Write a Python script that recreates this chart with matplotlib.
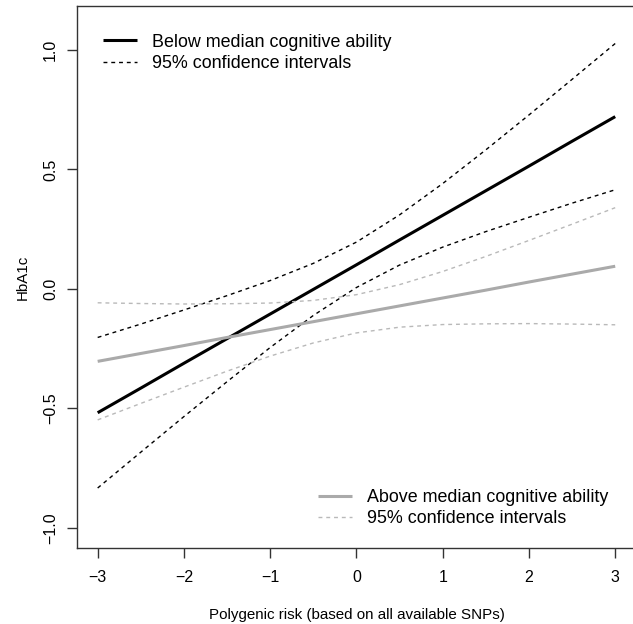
import matplotlib
matplotlib.use('Agg')
import matplotlib.pyplot as plt

plt.rcParams['font.family'] = ['Liberation Sans', 'DejaVu Sans']

# polygenic risk grid
risk = [-3, -2.5, -2, -1.5, -1, -0.5, 0, 0.5, 1, 1.5, 2, 2.5, 3]

# below median cognitive ability
below_fit = [-0.518, -0.415, -0.311, -0.208, -0.105, -0.002, 0.101, 0.205, 0.308, 0.411, 0.514, 0.618, 0.721]
below_hi = [-0.203, -0.147, -0.088, -0.028, 0.035, 0.107, 0.196, 0.310, 0.441, 0.582, 0.728, 0.877, 1.027]
below_lo = [-0.833, -0.683, -0.534, -0.388, -0.245, -0.111, 0.006, 0.100, 0.175, 0.240, 0.300, 0.359, 0.415]

# above median cognitive ability
above_fit = [-0.303, -0.270, -0.237, -0.203, -0.170, -0.137, -0.104, -0.071, -0.038, -0.005, 0.029, 0.062, 0.095]
above_hi = [-0.058, -0.061, -0.063, -0.062, -0.059, -0.048, -0.024, 0.018, 0.073, 0.136, 0.203, 0.271, 0.340]
above_lo = [-0.548, -0.479, -0.411, -0.344, -0.281, -0.226, -0.184, -0.160, -0.149, -0.146, -0.145, -0.147, -0.150]

xticks = [-3, -2, -1, 0, 1, 2, 3]
yticks = [-1.0, -0.5, 0.0, 0.5, 1.0]

fig = plt.figure(figsize=(6.33, 6.24), dpi=100)
ax = fig.add_axes([0.1216, 0.1218, 0.883, 0.8686])

dash = (2.8, 2.8)
gsolid = '#aaaaaa'
gdash = '#b9b9b9'

l1, = ax.plot(risk, below_fit, color='black', lw=2.2, solid_capstyle='butt')
l2, = ax.plot(risk, below_hi, color='black', lw=1.0, dashes=dash)
ax.plot(risk, below_lo, color='black', lw=1.0, dashes=dash)

l3, = ax.plot(risk, above_fit, color=gsolid, lw=2.2, solid_capstyle='butt')
l4, = ax.plot(risk, above_hi, color=gdash, lw=1.0, dashes=dash)
ax.plot(risk, above_lo, color=gdash, lw=1.0, dashes=dash)

ax.set_xlim(-3.24, 3.24)
ax.set_ylim(-1.084, 1.184)
ax.set_xticks(xticks)
ax.set_xticklabels(['\u22123', '\u22122', '\u22121', '0', '1', '2', '3'])
ax.set_yticks(yticks)
ax.set_yticklabels(['\u22121.0', '\u22120.5', '0.0', '0.5', '1.0'], rotation=90, va='center')
ax.tick_params(length=7, width=1.0, labelsize=11.5, color='#333333', pad=8.5)
ax.tick_params(axis='y', pad=6.5)
for s in ax.spines.values():
    s.set_color('#333333')
    s.set_linewidth(1.0)

ax.set_xlabel('Polygenic risk (based on all available SNPs)', fontsize=10.9, labelpad=17)
ax.set_ylabel('HbA1c', fontsize=10.9, labelpad=10)

leg1 = ax.legend([l1, l2], ['Below median cognitive ability', '95% confidence intervals'],
                 loc='upper left', bbox_to_anchor=(0.034, 0.962), frameon=False,
                 fontsize=12.9, handlelength=1.9, handletextpad=0.85, labelspacing=0.25,
                 borderaxespad=0)
ax.add_artist(leg1)
ax.legend([l3, l4], ['Above median cognitive ability', '95% confidence intervals'],
          loc='lower left', bbox_to_anchor=(0.418, 0.025), frameon=False,
          fontsize=12.9, handlelength=1.9, handletextpad=0.85, labelspacing=0.25,
          borderaxespad=0)

fig.savefig('out.png', dpi=100)
